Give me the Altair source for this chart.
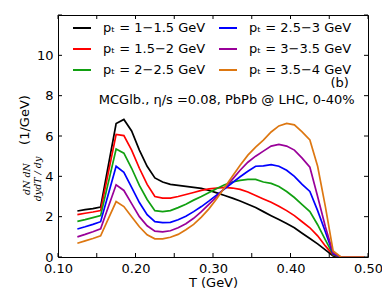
import altair as alt
import pandas as pd

T = [0.125, 0.135, 0.145, 0.155, 0.165, 0.175, 0.185, 0.195, 0.205, 0.215,
     0.225, 0.235, 0.245, 0.255, 0.265, 0.275, 0.285, 0.295, 0.305, 0.315,
     0.325, 0.335, 0.345, 0.355, 0.365, 0.375, 0.385, 0.395, 0.405, 0.415,
     0.425, 0.435, 0.445, 0.455, 0.465, 0.475, 0.485, 0.495]

pt_1_15 = [2.28, 2.35, 2.40, 2.48, 4.55, 6.62, 6.82, 6.25, 5.30, 4.50,
           3.92, 3.72, 3.60, 3.55, 3.50, 3.45, 3.40, 3.30, 3.18, 3.05,
           2.92, 2.78, 2.62, 2.45, 2.25, 2.05, 1.86, 1.66, 1.45, 1.18,
           0.92, 0.65, 0.35, 0.05, 0.0, 0.0, 0.0, 0.0]
pt_15_2 = [2.10, 2.17, 2.23, 2.30, 4.20, 6.08, 6.02, 5.30, 4.40, 3.60,
           3.00, 2.92, 2.92, 3.00, 3.10, 3.20, 3.30, 3.38, 3.42, 3.45,
           3.42, 3.35, 3.22, 3.05, 2.88, 2.72, 2.52, 2.30, 2.05, 1.75,
           1.45, 1.05, 0.55, 0.10, 0.0, 0.0, 0.0, 0.0]
pt_2_25 = [1.77, 1.85, 1.95, 2.05, 3.70, 5.35, 5.15, 4.40, 3.55, 2.85,
           2.30, 2.25, 2.30, 2.45, 2.62, 2.82, 3.00, 3.20, 3.40, 3.58,
           3.72, 3.80, 3.85, 3.85, 3.72, 3.65, 3.50, 3.25, 2.95, 2.60,
           2.25, 1.60, 0.85, 0.12, 0.0, 0.0, 0.0, 0.0]
pt_25_3 = [1.39, 1.50, 1.62, 1.75, 3.12, 4.50, 4.20, 3.45, 2.70, 2.10,
           1.75, 1.70, 1.72, 1.85, 2.02, 2.25, 2.50, 2.78, 3.08, 3.38,
           3.68, 3.98, 4.25, 4.50, 4.52, 4.58, 4.50, 4.30, 4.00, 3.60,
           3.25, 2.30, 1.25, 0.15, 0.0, 0.0, 0.0, 0.0]
pt_3_35 = [1.00, 1.12, 1.25, 1.40, 2.49, 3.58, 3.30, 2.65, 2.00, 1.55,
           1.28, 1.25, 1.30, 1.45, 1.65, 1.92, 2.25, 2.62, 3.00, 3.42,
           3.85, 4.30, 4.70, 5.00, 5.25, 5.50, 5.58, 5.50, 5.30, 4.90,
           4.45, 3.00, 1.50, 0.20, 0.0, 0.0, 0.0, 0.0]
pt_35_4 = [0.68, 0.80, 0.92, 1.05, 1.90, 2.75, 2.50, 2.00, 1.50, 1.10,
           0.90, 0.90, 0.98, 1.12, 1.35, 1.62, 1.98, 2.40, 2.90, 3.45,
           4.00, 4.55, 5.05, 5.45, 5.80, 6.20, 6.50, 6.62, 6.55, 6.20,
           5.80, 4.50, 2.50, 0.30, 0.0, 0.0, 0.0, 0.0]

labels = ["pₜ = 1−1.5 GeV", "pₜ = 1.5−2 GeV", "pₜ = 2−2.5 GeV",
          "pₜ = 2.5−3 GeV", "pₜ = 3−3.5 GeV", "pₜ = 3.5−4 GeV"]
colors = ["#000000", "#ff0000", "#11a011", "#0000ff", "#990099", "#dd7711"]
series = [pt_1_15, pt_15_2, pt_2_25, pt_25_3, pt_3_35, pt_35_4]

x_ticks = [0.10, 0.15, 0.20, 0.25, 0.30, 0.35, 0.40, 0.45, 0.50]
y_ticks = [0, 2, 4, 6, 8, 10, 12]

rows = []
for lab, vals in zip(labels, series):
    for t, v in zip(T, vals):
        rows.append({"T": t, "v": v, "s": lab})
df = pd.DataFrame(rows)

W, H = 310, 242
xs = alt.Scale(domain=[0.10, 0.50], nice=False, zero=False)
ys = alt.Scale(domain=[0, 12], nice=False)

lines = alt.Chart(df).mark_line(strokeWidth=1.7, clip=True).encode(
    x=alt.X("T:Q", scale=xs, title="T (GeV)",
            axis=alt.Axis(values=x_ticks, format=".2f", tickSize=0, domain=False,
                          grid=False, labelFontSize=13, labelColor="black",
                          labelPadding=5, titleFontSize=13, titleFontWeight="normal",
                          titleColor="black", titlePadding=1, labelFlush=False)),
    y=alt.Y("v:Q", scale=ys, title=None,
            axis=alt.Axis(values=[0, 2, 4, 6, 8, 10], tickSize=0, domain=False,
                          grid=False, labelFontSize=13, labelColor="black",
                          labelPadding=5, labelFlush=False)),
    color=alt.Color("s:N", scale=alt.Scale(domain=labels, range=colors), title=None,
                    legend=alt.Legend(orient="none", legendX=14, legendY=3, columns=2,
                                      symbolType="stroke", symbolSize=324,
                                      symbolStrokeWidth=2, labelFontSize=13,
                                      labelFont="DejaVu Sans", labelColor="black",
                                      labelOffset=11, rowPadding=4, columnPadding=9,
                                      labelLimit=200)),
    detail="s:N",
)

xt = pd.DataFrame({"t": x_ticks})
yt = pd.DataFrame({"t": y_ticks})
bot = alt.Chart(xt).mark_rule(color="black", strokeWidth=1).encode(
    x=alt.X("t:Q", scale=xs), y=alt.value(H), y2=alt.value(H - 4))
top = alt.Chart(xt).mark_rule(color="black", strokeWidth=1).encode(
    x=alt.X("t:Q", scale=xs), y=alt.value(0), y2=alt.value(4))
left = alt.Chart(yt).mark_rule(color="black", strokeWidth=1).encode(
    y=alt.Y("t:Q", scale=ys), x=alt.value(0), x2=alt.value(4))
right = alt.Chart(yt).mark_rule(color="black", strokeWidth=1).encode(
    y=alt.Y("t:Q", scale=ys), x=alt.value(W), x2=alt.value(W - 4))

ann = pd.DataFrame({
    "T": [0.4635, 0.3177],
    "v": [8.62, 7.77],
    "txt": ["(b)", "MCGlb., η/s =0.08, PbPb @ LHC, 0-40%"],
})
annot = alt.Chart(ann).mark_text(fontSize=13, font="DejaVu Sans", color="black").encode(
    x=alt.X("T:Q", scale=xs), y=alt.Y("v:Q", scale=ys), text="txt:N")

ytitle1 = alt.Chart(pd.DataFrame({"a": [1]})).mark_text(
    text="(1/GeV)", angle=270, fontSize=13, font="DejaVu Sans", color="black"
).encode(x=alt.value(-33), y=alt.value(105))
ytitle2 = alt.Chart(pd.DataFrame({"a": [1]})).mark_text(
    text=["dN       dN", "dydT / dy"], angle=270, fontSize=9.5, font="DejaVu Serif",
    fontStyle="italic", color="black", lineHeight=11
).encode(x=alt.value(-31), y=alt.value(164))

chart = alt.layer(lines, bot, top, left, right, annot, ytitle1, ytitle2).properties(
    width=W, height=H,
    autosize=alt.AutoSizeParams(type="none"),
    padding={"left": 50, "top": 7, "right": 14, "bottom": 35},
).configure_view(stroke="black", strokeWidth=1).configure_axis(
    labelFont="DejaVu Sans", titleFont="DejaVu Sans")

chart.save("out.html", embed_options={"renderer": "svg", "actions": False})
